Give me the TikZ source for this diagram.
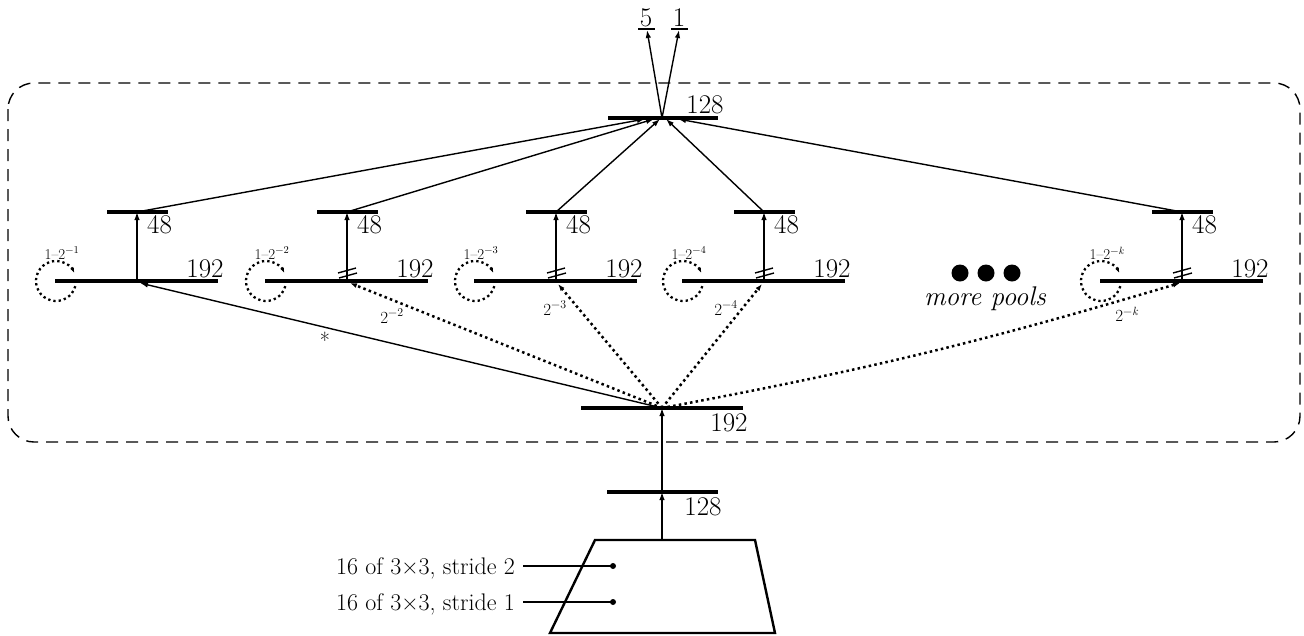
\documentclass[tikz,border=0pt]{standalone}
\usepackage{fontspec}
\usetikzlibrary{arrows.meta,calc}
\begin{document}
\begin{tikzpicture}[x=1pt,y=-1pt,
  layer/.style={line width=3.6pt},
  wire/.style={line width=1.4pt},
  conn/.style={wire,-{Latex[length=8pt,width=5.5pt]}},
  dotconn/.style={line width=2.5pt,dash pattern=on 2.5pt off 3.2pt,-{Latex[length=7pt,width=5pt]}},
  loopline/.style={line width=2.3pt,dash pattern=on 2.3pt off 3pt,-{Latex[length=5pt,width=4pt]}},
  sizelab/.style={font=\fontsize{27}{30}\selectfont,inner sep=0pt},
  notelab/.style={font=\fontsize{27}{30}\selectfont\itshape,inner sep=0pt},
  inlab/.style={font=\fontsize{24}{28}\selectfont,inner sep=0pt},
  weightlab/.style={font=\fontsize{17}{19}\selectfont,inner sep=0pt},
  looplab/.style={font=\fontsize{15}{17}\selectfont,inner sep=0pt},
]
\useasboundingbox (0,0) rectangle (1304,635);

% enclosing frame of the pooling block
\draw[wire,dash pattern=on 12pt off 8pt,rounded corners=26pt] (8,83) rectangle (1300,442);

% main layer positions
\coordinate (top) at (662,118);
\coordinate (o5) at (647,30);
\coordinate (o1) at (679,30);
\coordinate (base) at (662,408);
\coordinate (stem) at (662,492);
\coordinate (trap) at (662,540);

% outputs
\draw[wire] (638,29) -- (655,29);
\node[sizelab,anchor=base] (l5) at (646,26) {5};
\draw[wire] (671,29) -- (688,29);
\node[sizelab,anchor=base] (l1) at (679,26) {1};
\draw[conn] (top) -- (o5);
\draw[conn] (top) -- (o1);

% top layer
\draw[layer] (608,118) -- (718,118);
\node[sizelab,anchor=base] (ltop) at (705,113) {128};

% pools
\foreach \n/\x/\s/\d in {1/137/1/-17, 2/347/2/-8, 3/556/3/-2, 4/764/4/4, k/1182/{\textit{k}}/16}{
  \coordinate (h\n) at (\x,212);
  \coordinate (p\n) at (\x,281);
  \draw[layer] ($(h\n)+(-30,0)$) -- ++(61,0);
  \node[sizelab,anchor=base west] at ($(h\n)+(10,21)$) {48};
  \draw[layer] ($(p\n)+(-82,0)$) -- ++(163,0);
  \node[sizelab,anchor=base] at ($(p\n)+(68,-4)$) {192};
  \draw[loopline] ($(p\n)+(-81,0)$) ++(15:20) arc[start angle=15,end angle=336,radius=20];
  \node[looplab] at ($(p\n)+(-75,-28)$) {1–2\textsuperscript{−\s}};
  \draw[conn] (p\n) -- (h\n);
  \draw[conn] (h\n) -- ($(top)+(\d,1)$);
}

% skip marks on the pooled branches
\foreach \n in {2,3,4,k}{
  \draw[wire] ($(p\n)+(-9,-8)$) -- ++(18,-5);
  \draw[wire] ($(p\n)+(-8,-3)$) -- ++(18,-5);
}

% more pools
\fill (960,273) circle (8.5pt);
\fill (986,273) circle (8.5pt);
\fill (1012,273) circle (8.5pt);
\node[notelab,anchor=base] (more) at (985,305) {more pools};

% base layer and its connections to the pools
\draw[layer] (581,408) -- (743,408);
\node[sizelab,anchor=base] (lbase) at (729,431) {192};
\draw[conn] (base) -- ($(p1)+(3,2)$);
\draw[dotconn] (base) -- ($(p2)+(3,2)$);
\draw[dotconn] (base) -- ($(p3)+(2,3)$);
\draw[dotconn] (base) -- ($(p4)+(-2,3)$);
\draw[dotconn] (base) to[bend right=3] ($(pk)+(-2,2)$);
\node[font=\fontsize{22}{24}\selectfont,inner sep=0pt] (w1) at (325,340) {*};
\node[weightlab] (w2) at (392,316) {2\textsuperscript{−2}};
\node[weightlab] (w3) at (555,308) {2\textsuperscript{−3}};
\node[weightlab] (w4) at (726,308) {2\textsuperscript{−4}};
\node[weightlab] (wk) at (1127,314) {2\textsuperscript{−\textit{k}}};

% stem layer
\draw[layer] (607,492) -- (718,492);
\node[sizelab,anchor=base] (lstem) at (703,515) {128};
\draw[conn] (stem) -- (base);
\draw[conn] (trap) -- (stem);

% convolution block
\draw[line width=2.4pt] (595,540) -- (755,540) -- (775,633) -- (550,633) -- cycle;
\coordinate (in2) at (613,566);
\coordinate (in1) at (613,602);
\node[inlab,anchor=base east] (t2) at (515,574) {16 of 3×3, stride 2};
\node[inlab,anchor=base east] (t1) at (515,610) {16 of 3×3, stride 1};
\draw[wire] ([xshift=8pt]t2.east |- in2) -- (in2);
\draw[wire] ([xshift=8pt]t1.east |- in1) -- (in1);
\fill (in2) circle (3pt);
\fill (in1) circle (3pt);
\end{tikzpicture}
\end{document}
